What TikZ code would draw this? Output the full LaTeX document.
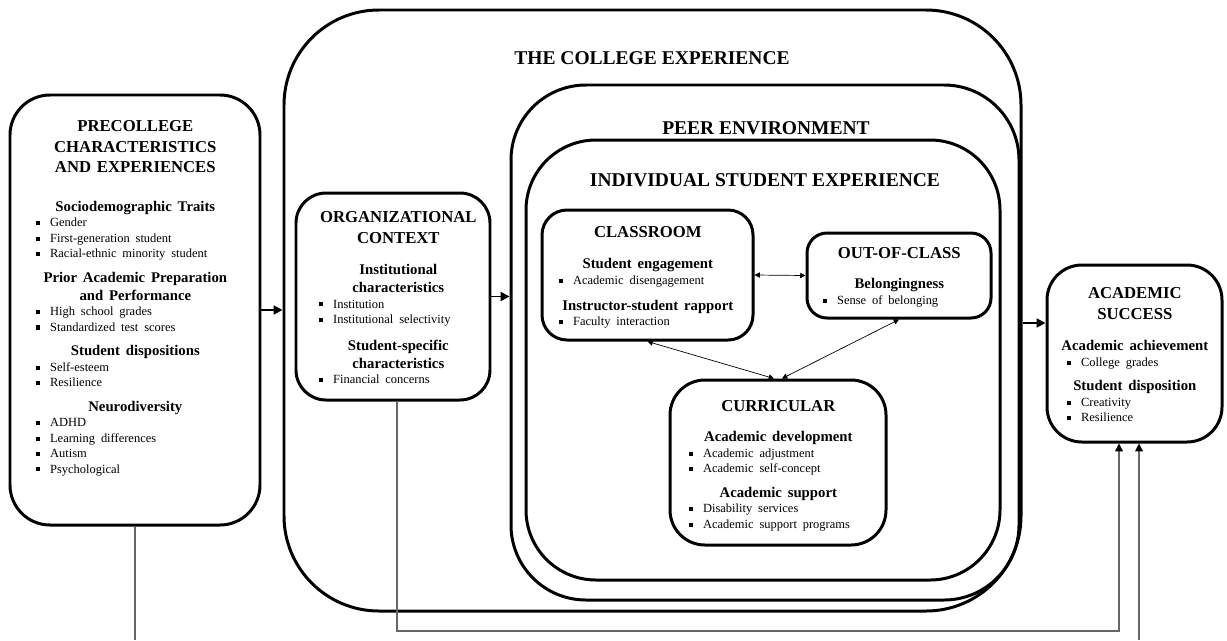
\documentclass[tikz,border=0pt]{standalone}
\usepackage{fontspec}
\setmainfont{Liberation Serif}
\usetikzlibrary{arrows.meta}
\usetikzlibrary{fit}
\usetikzlibrary{positioning}

\newcommand{\hdr}[1]{{\centering\fontsize{9.5}{11.8}\selectfont\bfseries #1\par}}
\newcommand{\grp}[2][3.8pt]{\vspace{#1}{\centering\fontsize{8.4}{10.2}\selectfont\bfseries #2\par}}
\newcommand{\bul}[1]{{\fontsize{7.1}{8.8}\selectfont\hspace*{6.2pt}\rule[0.9pt]{2.3pt}{2.3pt}\hspace{5.6pt}#1\par}}

\begin{document}
\begin{tikzpicture}[x=0.02cm, y=-0.02cm,
  box/.style={draw, line width=1.7pt, rounded corners=#1, inner sep=0pt},
  txt/.style={anchor=base west, inner sep=0pt, text width=#1},
  ttl/.style={font=\fontsize{11.1}{13}\selectfont\bfseries},
  bigarr/.style={line width=1.1pt, -{Triangle[length=5pt,width=5pt]}},
  twoarr/.style={line width=0.4pt, {Triangle[length=3pt,width=3pt]}-{Triangle[length=3pt,width=3pt]}},
  link/.style={draw=black!60, line width=0.6pt},
  upto/.style={-{Triangle[length=4.5pt,width=4.5pt,color=black]}}]
\useasboundingbox (0,0) rectangle (1227,640);

% nested settings
\node[box=1.9cm, fit={(284,10) (1021,611)}] (college) {};
\node[box=1.5cm, fit={(511,85) (1019,600)}] (peer) {};
\node[box=1.4cm, fit={(526,140) (1000,580)}] (indiv) {};
\node[ttl] (tCollege) at (652,58) {THE COLLEGE EXPERIENCE};
\node[ttl] (tPeer) at (766,128) {PEER ENVIRONMENT};
\node[ttl] (tIndiv) at (765,180) {INDIVIDUAL STUDENT EXPERIENCE};

% boxes
\node[box=0.8cm, fit={(10,95) (260,525)}] (pre) {};
\node[box=0.6cm, fit={(296,193) (490,400)}] (org) {};
\node[box=0.5cm, fit={(542,210) (753,340)}] (class) {};
\node[box=0.4cm, fit={(807,233) (991,318)}] (out) {};
\node[box=0.7cm, fit={(670,380) (886,545)}] (curr) {};
\node[box=0.7cm, fit={(1047,265) (1222,442)}] (succ) {};

% contents
\node[txt=4.4cm] (preText) at (25,131.5) {\hdr{PRECOLLEGE\\CHARACTERISTICS\\AND EXPERIENCES}
  \grp[11.6pt]{Sociodemographic Traits}
  \bul{Gender}\bul{First-generation student}\bul{Racial-ethnic minority student}
  \grp{Prior Academic Preparation\\and Performance}
  \bul{High school grades}\bul{Standardized test scores}
  \grp{Student dispositions}
  \bul{Self-esteem}\bul{Resilience}
  \grp{Neurodiversity}
  \bul{ADHD}\bul{Learning differences}\bul{Autism}\bul{Psychological}};
\node[txt=3.6cm] (orgText) at (308,222.5) {\hdr{ORGANIZATIONAL\\CONTEXT}
  \grp[7.7pt]{Institutional\\characteristics}
  \bul{Institution}\bul{Institutional selectivity}
  \grp[5.1pt]{Student-specific\\characteristics}
  \bul{Financial concerns}};
\node[txt=3.98cm] (classText) at (548,237.5) {\hdr{CLASSROOM}
  \grp[7.7pt]{Student engagement}
  \bul{Academic disengagement}
  \grp[4.5pt]{Instructor-student rapport}
  \bul{Faculty interaction}};
\node[txt=3.48cm] (outText) at (812,258.5) {\hdr{OUT-OF-CLASS}
  \grp[7.1pt]{Belongingness}
  \bul{Sense of belonging}};
\node[txt=4cm] (currText) at (678,411.5) {\hdr{CURRICULAR}
  \grp[7.1pt]{Academic development}
  \bul{Academic adjustment}\bul{Academic self-concept}
  \grp{Academic support}
  \bul{Disability services}\bul{Academic support programs}};
\node[txt=3.14cm] (succText) at (1056,298.5) {\hdr{ACADEMIC\\SUCCESS}
  \grp[7.7pt]{Academic achievement}
  \bul{College grades}
  \grp{Student disposition}
  \bul{Creativity}\bul{Resilience}};

% main flow
\draw[bigarr] (pre.east) -- (pre.east -| college.west);
\draw[bigarr] (org.east) -- (org.east -| peer.west);
\coordinate (mid) at (1030,323);
\draw[bigarr] (college.east |- mid) -- (succ.west |- mid);

% inside the student experience
\draw[twoarr] (class.east) -- (out.west);
\draw[twoarr] (class.south) -- ([xshift=-0.08cm]curr.north);
\draw[twoarr] (out.south) -- ([xshift=0.08cm]curr.north);

% direct paths to success
\coordinate (loopA) at (1119,631);
\coordinate (loopB) at (1139,640);
\draw[link, upto] ([xshift=0.08cm]org.south) |- (loopA) -- (loopA |- succ.south);
\draw[link] (pre.south) -- (pre.south |- loopB);
\draw[link, upto] (loopB) -- (loopB |- succ.south);
\end{tikzpicture}
\end{document}
